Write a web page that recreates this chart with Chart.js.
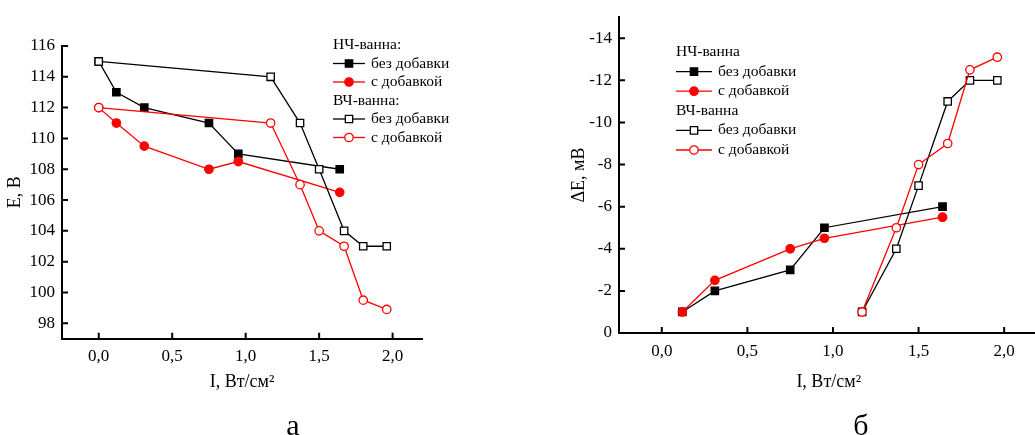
<!DOCTYPE html>
<html lang="ru">
<head>
<meta charset="UTF-8">
<title>E и ΔE от интенсивности ультразвука</title>
<style>
  html, body { margin: 0; padding: 0; background: #fff; overflow: hidden; }
  body { width: 1035px; height: 435px; position: relative; font-family: 'Liberation Serif', serif; }
  canvas { position: absolute; top: 0; }
  #chartA { left: 0; }
  #chartB { left: 564px; }
  .cap { position: absolute; top: 410px; font-size: 30px; line-height: 1; transform: translateX(-50%); }
</style>
</head>
<body>
<canvas id="chartA" width="470" height="435"></canvas>
<canvas id="chartB" width="490" height="435"></canvas>
<div class="cap" style="left:293px">а</div>
<div class="cap" style="left:861px">б</div>
<script src="https://cdn.jsdelivr.net/npm/chart.js"></script>
<script>
// tick values
const xTicks = [0, 0.5, 1, 1.5, 2];
const eTicks = [98, 100, 102, 104, 106, 108, 110, 112, 114, 116];
const dTicks = [0, -2, -4, -6, -8, -10, -12, -14];

// (а) напряжение E, В
const iLfA = [0, 0.12, 0.31, 0.75, 0.95, 1.64];
const eLfPlain = [115, 113, 112, 111, 109, 108];
const eLfAdd = [112, 111, 109.5, 108, 108.5, 106.5];
const iHfA = [0, 1.17, 1.37, 1.5, 1.67, 1.8, 1.96];
const eHfPlain = [115, 114, 111, 108, 104, 103, 103];
const eHfAdd = [112, 111, 107, 104, 103, 99.5, 98.9];

// (б) сдвиг ΔE, мВ
const iLfB = [0.12, 0.31, 0.75, 0.95, 1.64];
const dLfPlain = [-1, -2, -3, -5, -6];
const dLfAdd = [-1, -2.5, -4, -4.5, -5.5];
const iHfB = [1.17, 1.37, 1.5, 1.67, 1.8, 1.96];
const dHfPlain = [-1, -4, -7, -11, -12, -12];
const dHfAdd = [-1, -5, -8, -9, -12.5, -13.1];

const seriesLabels = ['без добавки', 'с добавкой'];
const groupTitlesA = ['НЧ-ванна:', 'ВЧ-ванна:'];
const groupTitlesB = ['НЧ-ванна', 'ВЧ-ванна'];

const FONT = 'Liberation Serif';
const RED = '#ff0000';
const BLACK = '#000000';

const pts = (xs, ys) => xs.map((x, i) => ({ x: x, y: ys[i] }));

function makeSet(label, xs, ys, color, filled, style, order) {
  return {
    label: label,
    data: pts(xs, ys),
    borderColor: color,
    backgroundColor: filled ? color : '#ffffff',
    borderWidth: 1.3,
    pointStyle: style,
    pointRadius: style === 'rect' ? 5.2 : 4.2,
    pointBorderWidth: 1.3,
    pointBackgroundColor: filled ? color : '#ffffff',
    pointBorderColor: color,
    tension: 0,
    order: order
  };
}

// tick marks pointing into the plot
const innerTicks = {
  id: 'innerTicks',
  beforeDatasetsDraw(chart) {
    const { ctx, chartArea, scales } = chart;
    ctx.save();
    ctx.strokeStyle = BLACK;
    ctx.lineWidth = 2;
    ctx.beginPath();
    scales.x.ticks.forEach((t, i) => {
      const px = scales.x.getPixelForTick(i);
      ctx.moveTo(px, chartArea.bottom);
      ctx.lineTo(px, chartArea.bottom - 6);
    });
    scales.y.ticks.forEach((t, i) => {
      const py = scales.y.getPixelForTick(i);
      ctx.moveTo(chartArea.left, py);
      ctx.lineTo(chartArea.left + 6, py);
    });
    ctx.stroke();
    ctx.restore();
  }
};

// legend with group headings
const groupLegend = {
  id: 'groupLegend',
  afterDraw(chart, args, opts) {
    const ctx = chart.ctx;
    let y = opts.y;
    ctx.save();
    ctx.font = opts.size + 'px "' + FONT + '"';
    ctx.textBaseline = 'middle';
    opts.groups.forEach(g => {
      ctx.fillStyle = BLACK;
      ctx.fillText(g.title, opts.x, y);
      y += opts.gap;
      g.items.forEach(idx => {
        const ds = chart.data.datasets[idx];
        ctx.strokeStyle = ds.borderColor;
        ctx.lineWidth = ds.borderWidth;
        ctx.beginPath();
        ctx.moveTo(opts.x, y);
        ctx.lineTo(opts.x + opts.lineLen, y);
        ctx.stroke();
        ctx.fillStyle = ds.pointBackgroundColor;
        Chart.helpers.drawPoint(ctx, {
          pointStyle: ds.pointStyle,
          radius: ds.pointRadius,
          borderWidth: ds.pointBorderWidth,
          rotation: 0
        }, opts.x + opts.lineLen / 2, y);
        ctx.fillStyle = BLACK;
        ctx.fillText(ds.label, opts.x + opts.lineLen + 6, y);
        y += opts.gap;
      });
    });
    ctx.restore();
  }
};

const fixTicks = vals => scale => { scale.ticks = vals.map(v => ({ value: v })); };
const commaFmt = v => v.toFixed(1).replace('.', ',');

function axisX(height) {
  return {
    type: 'linear',
    min: -0.25,
    max: 2.2,
    afterBuildTicks: fixTicks(xTicks),
    afterFit: s => { s.height = height; },
    grid: { display: false, drawTicks: false },
    border: { display: true, width: 2, color: BLACK },
    ticks: { color: BLACK, font: { family: FONT, size: 17 }, padding: 8, maxRotation: 0, callback: commaFmt },
    title: { display: true, text: 'I, Вт/см²', color: BLACK, font: { family: FONT, size: 18 }, padding: { top: 4, bottom: 4 } }
  };
}

function axisY(width, min, max, vals, title, reverse) {
  return {
    type: 'linear',
    min: min,
    max: max,
    reverse: reverse,
    afterBuildTicks: fixTicks(vals),
    afterFit: s => { s.width = width; },
    grid: { display: false, drawTicks: false },
    border: { display: true, width: 2, color: BLACK },
    ticks: { color: BLACK, font: { family: FONT, size: 17 }, padding: 7, callback: v => String(v) },
    title: { display: true, text: title, color: BLACK, font: { family: FONT, size: 18 }, padding: { top: 4, bottom: 4 } }
  };
}

const baseOpts = {
  responsive: false,
  animation: false,
  plugins: { legend: { display: false }, tooltip: { enabled: false } }
};

new Chart(document.getElementById('chartA'), {
  type: 'line',
  data: {
    datasets: [
      makeSet(seriesLabels[0], iLfA, eLfPlain, BLACK, true, 'rect', 3),
      makeSet(seriesLabels[1], iLfA, eLfAdd, RED, true, 'circle', 2),
      makeSet(seriesLabels[0], iHfA, eHfPlain, BLACK, false, 'rect', 1),
      makeSet(seriesLabels[1], iHfA, eHfAdd, RED, false, 'circle', 0)
    ]
  },
  options: Object.assign({}, baseOpts, {
    layout: { padding: { left: 0, top: 46, right: 48, bottom: 37.8 } },
    scales: {
      x: axisX(58.5),
      y: axisY(62, 97, 116, eTicks, 'E, B', false)
    },
    plugins: Object.assign({}, baseOpts.plugins, {
      groupLegend: {
        x: 333, y: 45, gap: 18.5, lineLen: 32, size: 15.5,
        groups: [{ title: groupTitlesA[0], items: [0, 1] }, { title: groupTitlesA[1], items: [2, 3] }]
      }
    })
  }),
  plugins: [innerTicks, groupLegend]
});

new Chart(document.getElementById('chartB'), {
  type: 'line',
  data: {
    datasets: [
      makeSet(seriesLabels[0], iLfB, dLfPlain, BLACK, true, 'rect', 3),
      makeSet(seriesLabels[1], iLfB, dLfAdd, RED, true, 'circle', 2),
      makeSet(seriesLabels[0], iHfB, dHfPlain, BLACK, false, 'rect', 1),
      makeSet(seriesLabels[1], iHfB, dHfAdd, RED, false, 'circle', 0)
    ]
  },
  options: Object.assign({}, baseOpts, {
    layout: { padding: { left: 0, top: 14.5, right: 15.6, bottom: 37.8 } },
    scales: {
      x: axisX(64.2),
      y: axisY(55, -15, 0, dTicks, 'ΔE, мВ', true)
    },
    plugins: Object.assign({}, baseOpts.plugins, {
      groupLegend: {
        x: 112, y: 52, gap: 19.6, lineLen: 36, size: 15.5,
        groups: [{ title: groupTitlesB[0], items: [0, 1] }, { title: groupTitlesB[1], items: [2, 3] }]
      }
    })
  }),
  plugins: [innerTicks, groupLegend]
});
</script>
</body>
</html>
